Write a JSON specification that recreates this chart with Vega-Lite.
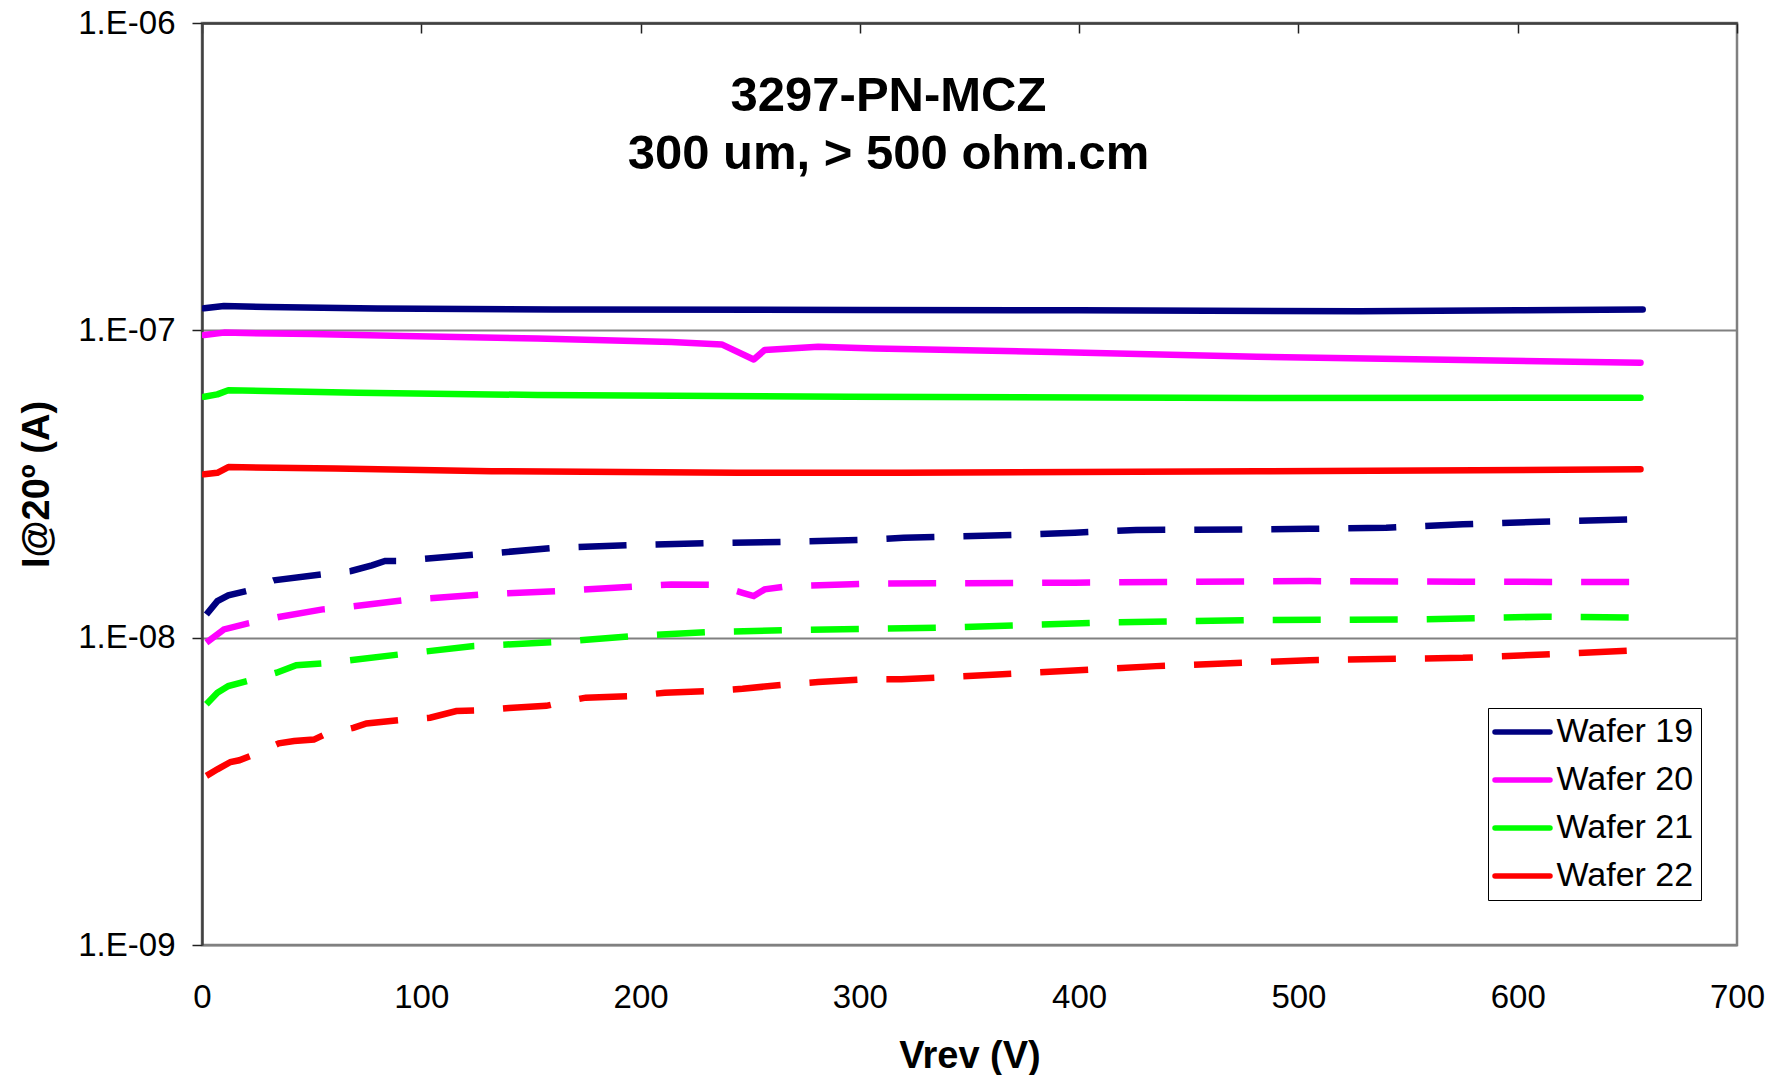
{
  "$schema": "https://vega.github.io/schema/vega-lite/v6.json",
  "width": 1535,
  "height": 922,
  "autosize": {"type": "none"},
  "padding": {"left": 202, "top": 23, "right": 43, "bottom": 130},
  "background": "white",
  "config": {
    "view": {"stroke": "#808080", "strokeWidth": 2.5},
    "font": "Liberation Sans"
  },
  "title": {
    "text": ["3297-PN-MCZ", "300 um, > 500 ohm.cm"],
    "font": "Liberation Sans",
    "fontSize": 49,
    "fontWeight": "bold",
    "color": "black",
    "anchor": "middle",
    "frame": "group",
    "dx": -81,
    "dy": 122,
    "baseline": "alphabetic",
    "offset": -89,
    "lineHeight": 58.5
  },
  "datasets": {
    "solid": [
      {"wafer": "Wafer 19", "V": 1, "I": 1.18e-7},
      {"wafer": "Wafer 19", "V": 10, "I": 1.2e-7},
      {"wafer": "Wafer 19", "V": 30, "I": 1.19e-7},
      {"wafer": "Wafer 19", "V": 80, "I": 1.177e-7},
      {"wafer": "Wafer 19", "V": 160, "I": 1.17e-7},
      {"wafer": "Wafer 19", "V": 300, "I": 1.164e-7},
      {"wafer": "Wafer 19", "V": 400, "I": 1.163e-7},
      {"wafer": "Wafer 19", "V": 528, "I": 1.153e-7},
      {"wafer": "Wafer 19", "V": 600, "I": 1.163e-7},
      {"wafer": "Wafer 19", "V": 657, "I": 1.17e-7},
      {"wafer": "Wafer 20", "V": 1, "I": 9.65e-8},
      {"wafer": "Wafer 20", "V": 10, "I": 9.83e-8},
      {"wafer": "Wafer 20", "V": 50, "I": 9.72e-8},
      {"wafer": "Wafer 20", "V": 92, "I": 9.58e-8},
      {"wafer": "Wafer 20", "V": 153, "I": 9.4e-8},
      {"wafer": "Wafer 20", "V": 214, "I": 9.16e-8},
      {"wafer": "Wafer 20", "V": 237, "I": 9.0e-8},
      {"wafer": "Wafer 20", "V": 251.6, "I": 8.04e-8},
      {"wafer": "Wafer 20", "V": 256.6, "I": 8.63e-8},
      {"wafer": "Wafer 20", "V": 281, "I": 8.85e-8},
      {"wafer": "Wafer 20", "V": 307, "I": 8.73e-8},
      {"wafer": "Wafer 20", "V": 388, "I": 8.5e-8},
      {"wafer": "Wafer 20", "V": 481, "I": 8.21e-8},
      {"wafer": "Wafer 20", "V": 575, "I": 8.0e-8},
      {"wafer": "Wafer 20", "V": 656, "I": 7.85e-8},
      {"wafer": "Wafer 21", "V": 1, "I": 6.08e-8},
      {"wafer": "Wafer 21", "V": 7, "I": 6.19e-8},
      {"wafer": "Wafer 21", "V": 12, "I": 6.38e-8},
      {"wafer": "Wafer 21", "V": 71, "I": 6.27e-8},
      {"wafer": "Wafer 21", "V": 153, "I": 6.16e-8},
      {"wafer": "Wafer 21", "V": 295, "I": 6.08e-8},
      {"wafer": "Wafer 21", "V": 481, "I": 6.02e-8},
      {"wafer": "Wafer 21", "V": 656, "I": 6.04e-8},
      {"wafer": "Wafer 22", "V": 1, "I": 3.40e-8},
      {"wafer": "Wafer 22", "V": 7, "I": 3.44e-8},
      {"wafer": "Wafer 22", "V": 12, "I": 3.59e-8},
      {"wafer": "Wafer 22", "V": 61, "I": 3.55e-8},
      {"wafer": "Wafer 22", "V": 132, "I": 3.48e-8},
      {"wafer": "Wafer 22", "V": 244, "I": 3.44e-8},
      {"wafer": "Wafer 22", "V": 319, "I": 3.44e-8},
      {"wafer": "Wafer 22", "V": 481, "I": 3.48e-8},
      {"wafer": "Wafer 22", "V": 656, "I": 3.53e-8}
    ],
    "dashed": [
      {"wafer": "Wafer 19", "V": 2, "I": 1.19e-8},
      {"wafer": "Wafer 19", "V": 7, "I": 1.315e-8},
      {"wafer": "Wafer 19", "V": 12, "I": 1.373e-8},
      {"wafer": "Wafer 19", "V": 20.5, "I": 1.42e-8},
      {"wafer": "Wafer 19", "V": 32.7, "I": 1.536e-8},
      {"wafer": "Wafer 19", "V": 55, "I": 1.607e-8},
      {"wafer": "Wafer 19", "V": 68, "I": 1.648e-8},
      {"wafer": "Wafer 19", "V": 77.5, "I": 1.72e-8},
      {"wafer": "Wafer 19", "V": 83.5, "I": 1.776e-8},
      {"wafer": "Wafer 19", "V": 90, "I": 1.776e-8},
      {"wafer": "Wafer 19", "V": 126, "I": 1.866e-8},
      {"wafer": "Wafer 19", "V": 161, "I": 1.96e-8},
      {"wafer": "Wafer 19", "V": 196.5, "I": 2.0e-8},
      {"wafer": "Wafer 19", "V": 232, "I": 2.03e-8},
      {"wafer": "Wafer 19", "V": 267, "I": 2.05e-8},
      {"wafer": "Wafer 19", "V": 302, "I": 2.08e-8},
      {"wafer": "Wafer 19", "V": 320, "I": 2.114e-8},
      {"wafer": "Wafer 19", "V": 375, "I": 2.163e-8},
      {"wafer": "Wafer 19", "V": 398, "I": 2.196e-8},
      {"wafer": "Wafer 19", "V": 426, "I": 2.24e-8},
      {"wafer": "Wafer 19", "V": 477, "I": 2.25e-8},
      {"wafer": "Wafer 19", "V": 505, "I": 2.26e-8},
      {"wafer": "Wafer 19", "V": 540, "I": 2.28e-8},
      {"wafer": "Wafer 19", "V": 575, "I": 2.337e-8},
      {"wafer": "Wafer 19", "V": 610, "I": 2.385e-8},
      {"wafer": "Wafer 19", "V": 657, "I": 2.43e-8},
      {"wafer": "Wafer 20", "V": 2, "I": 9.63e-9},
      {"wafer": "Wafer 20", "V": 10, "I": 1.064e-8},
      {"wafer": "Wafer 20", "V": 21, "I": 1.113e-8},
      {"wafer": "Wafer 20", "V": 35, "I": 1.167e-8},
      {"wafer": "Wafer 20", "V": 55, "I": 1.236e-8},
      {"wafer": "Wafer 20", "V": 64, "I": 1.252e-8},
      {"wafer": "Wafer 20", "V": 92, "I": 1.325e-8},
      {"wafer": "Wafer 20", "V": 128, "I": 1.383e-8},
      {"wafer": "Wafer 20", "V": 163, "I": 1.418e-8},
      {"wafer": "Wafer 20", "V": 197.5, "I": 1.466e-8},
      {"wafer": "Wafer 20", "V": 214, "I": 1.49e-8},
      {"wafer": "Wafer 20", "V": 234, "I": 1.485e-8},
      {"wafer": "Wafer 20", "V": 246.5, "I": 1.40e-8},
      {"wafer": "Wafer 20", "V": 251.6, "I": 1.366e-8},
      {"wafer": "Wafer 20", "V": 256.6, "I": 1.436e-8},
      {"wafer": "Wafer 20", "V": 267, "I": 1.47e-8},
      {"wafer": "Wafer 20", "V": 302, "I": 1.498e-8},
      {"wafer": "Wafer 20", "V": 398, "I": 1.51e-8},
      {"wafer": "Wafer 20", "V": 505, "I": 1.528e-8},
      {"wafer": "Wafer 20", "V": 575, "I": 1.52e-8},
      {"wafer": "Wafer 20", "V": 657, "I": 1.517e-8},
      {"wafer": "Wafer 21", "V": 2, "I": 6.07e-9},
      {"wafer": "Wafer 21", "V": 7, "I": 6.62e-9},
      {"wafer": "Wafer 21", "V": 12, "I": 6.96e-9},
      {"wafer": "Wafer 21", "V": 20.5, "I": 7.22e-9},
      {"wafer": "Wafer 21", "V": 34, "I": 7.69e-9},
      {"wafer": "Wafer 21", "V": 43, "I": 8.13e-9},
      {"wafer": "Wafer 21", "V": 55, "I": 8.25e-9},
      {"wafer": "Wafer 21", "V": 90, "I": 8.82e-9},
      {"wafer": "Wafer 21", "V": 124, "I": 9.39e-9},
      {"wafer": "Wafer 21", "V": 161, "I": 9.67e-9},
      {"wafer": "Wafer 21", "V": 196.5, "I": 1.012e-8},
      {"wafer": "Wafer 21", "V": 232, "I": 1.043e-8},
      {"wafer": "Wafer 21", "V": 267, "I": 1.058e-8},
      {"wafer": "Wafer 21", "V": 303, "I": 1.068e-8},
      {"wafer": "Wafer 21", "V": 339, "I": 1.078e-8},
      {"wafer": "Wafer 21", "V": 409.5, "I": 1.119e-8},
      {"wafer": "Wafer 21", "V": 480, "I": 1.141e-8},
      {"wafer": "Wafer 21", "V": 551, "I": 1.146e-8},
      {"wafer": "Wafer 21", "V": 612, "I": 1.17e-8},
      {"wafer": "Wafer 21", "V": 657, "I": 1.163e-8},
      {"wafer": "Wafer 22", "V": 2, "I": 3.55e-9},
      {"wafer": "Wafer 22", "V": 7, "I": 3.73e-9},
      {"wafer": "Wafer 22", "V": 13, "I": 3.94e-9},
      {"wafer": "Wafer 22", "V": 17, "I": 3.99e-9},
      {"wafer": "Wafer 22", "V": 22, "I": 4.12e-9},
      {"wafer": "Wafer 22", "V": 35, "I": 4.53e-9},
      {"wafer": "Wafer 22", "V": 42, "I": 4.61e-9},
      {"wafer": "Wafer 22", "V": 51, "I": 4.66e-9},
      {"wafer": "Wafer 22", "V": 56, "I": 4.84e-9},
      {"wafer": "Wafer 22", "V": 69, "I": 5.09e-9},
      {"wafer": "Wafer 22", "V": 75, "I": 5.26e-9},
      {"wafer": "Wafer 22", "V": 90, "I": 5.39e-9},
      {"wafer": "Wafer 22", "V": 104, "I": 5.49e-9},
      {"wafer": "Wafer 22", "V": 116, "I": 5.77e-9},
      {"wafer": "Wafer 22", "V": 127, "I": 5.8e-9},
      {"wafer": "Wafer 22", "V": 140, "I": 5.9e-9},
      {"wafer": "Wafer 22", "V": 157, "I": 6.0e-9},
      {"wafer": "Wafer 22", "V": 163, "I": 6.14e-9},
      {"wafer": "Wafer 22", "V": 175, "I": 6.38e-9},
      {"wafer": "Wafer 22", "V": 196.5, "I": 6.46e-9},
      {"wafer": "Wafer 22", "V": 211, "I": 6.62e-9},
      {"wafer": "Wafer 22", "V": 232, "I": 6.70e-9},
      {"wafer": "Wafer 22", "V": 246.5, "I": 6.82e-9},
      {"wafer": "Wafer 22", "V": 267, "I": 7.05e-9},
      {"wafer": "Wafer 22", "V": 281, "I": 7.17e-9},
      {"wafer": "Wafer 22", "V": 302, "I": 7.32e-9},
      {"wafer": "Wafer 22", "V": 319, "I": 7.32e-9},
      {"wafer": "Wafer 22", "V": 365, "I": 7.6e-9},
      {"wafer": "Wafer 22", "V": 435, "I": 8.08e-9},
      {"wafer": "Wafer 22", "V": 505, "I": 8.45e-9},
      {"wafer": "Wafer 22", "V": 575, "I": 8.6e-9},
      {"wafer": "Wafer 22", "V": 612, "I": 8.82e-9},
      {"wafer": "Wafer 22", "V": 657, "I": 9.11e-9}
    ]
  },
  "resolve": {"axis": {"x": "independent"}},
  "layer": [
    {
      "data": {"name": "solid"},
      "mark": {"type": "line", "strokeWidth": 6.5, "strokeCap": "round", "strokeJoin": "round", "clip": true},
      "encoding": {
        "x": {
          "field": "V", "type": "quantitative",
          "scale": {"domain": [0, 700], "nice": false, "zero": false},
          "axis": {
            "orient": "bottom",
            "values": [0, 100, 200, 300, 400, 500, 600, 700],
            "title": "Vrev (V)",
            "titleFont": "Liberation Sans",
            "titleFontSize": 38,
            "titleFontWeight": "bold",
            "titleColor": "black",
            "titleBaseline": "alphabetic",
            "titleY": 122,
            "grid": false,
            "domain": false,
            "ticks": false,
            "tickSize": 0,
            "labelFont": "Liberation Sans",
            "labelFontSize": 33,
            "labelColor": "black",
            "labelPadding": 36,
            "labelBaseline": "top",
            "labelFlush": false
          }
        },
        "y": {
          "field": "I", "type": "quantitative",
          "scale": {"type": "log", "domain": [1e-9, 1e-6], "nice": false},
          "axis": {
            "values": [1e-9, 1e-8, 1e-7, 1e-6],
            "labelExpr": "'1.E-0' + round(-log(datum.value)/LN10)",
            "title": "I@20º (A)",
            "titleFont": "Liberation Sans",
            "titleFontSize": 38,
            "titleFontWeight": "bold",
            "titleColor": "black",
            "titleAngle": -90,
            "titleAlign": "center",
            "titleBaseline": "alphabetic",
            "titleX": -154,
            "titleY": 461,
            "grid": true,
            "gridColor": "#808080",
            "gridWidth": 2,
            "domainColor": "#404040",
            "domainWidth": 2.5,
            "tickColor": "#202020",
            "tickWidth": 1.5,
            "tickSize": 10,
            "labelFont": "Liberation Sans",
            "labelFontSize": 33,
            "labelColor": "black",
            "labelPadding": 17,
            "labelFlush": false
          }
        },
        "color": {
          "field": "wafer", "type": "nominal",
          "scale": {
            "domain": ["Wafer 19", "Wafer 20", "Wafer 21", "Wafer 22"],
            "range": ["#000080", "#FF00FF", "#00FF00", "#FF0000"]
          },
          "legend": {
            "orient": "none",
            "legendX": 1286,
            "legendY": 685,
            "title": null,
            "direction": "vertical",
            "symbolType": "M-2,0H2",
            "symbolSize": 756,
            "symbolStrokeWidth": 5.5,
            "symbolOffset": 10.5,
            "symbolDash": [1, 0],
            "labelFont": "Liberation Sans",
            "labelFontSize": 34,
            "labelColor": "black",
            "labelOffset": 17,
            "rowPadding": 14,
            "padding": 7,
            "strokeColor": "black",
            "fillColor": "white",
            "encode": {
              "symbols": {"update": {"strokeCap": {"value": "round"}}}
            }
          }
        }
      }
    },
    {
      "data": {"name": "dashed"},
      "mark": {"type": "line", "strokeWidth": 6.5, "strokeCap": "butt", "strokeDash": [48, 29], "clip": true},
      "encoding": {
        "x": {
          "field": "V", "type": "quantitative",
          "axis": {
            "orient": "top",
            "values": [0, 100, 200, 300, 400, 500, 600, 700],
            "labels": false,
            "title": null,
            "grid": false,
            "domain": true,
            "domainColor": "#404040",
            "domainWidth": 2.5,
            "ticks": true,
            "tickSize": -10,
            "tickColor": "#202020",
            "tickWidth": 1.5
          }
        },
        "y": {"field": "I", "type": "quantitative"},
        "color": {"field": "wafer", "type": "nominal"}
      }
    }
  ]
}
